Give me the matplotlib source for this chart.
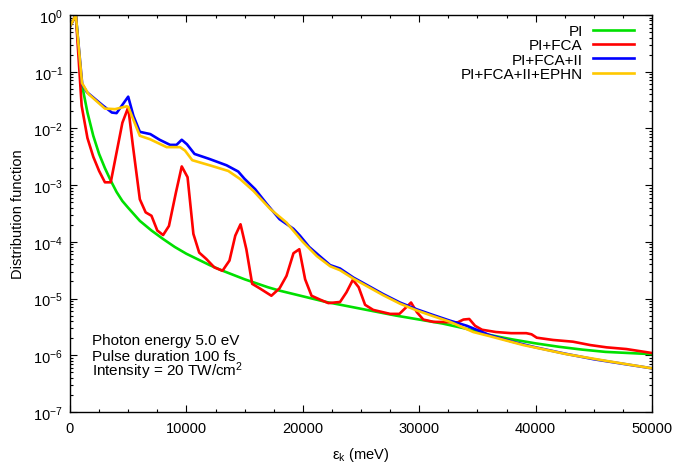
import numpy as np
import matplotlib
matplotlib.use("Agg")
import matplotlib.pyplot as plt
from matplotlib.ticker import MultipleLocator, LogLocator, LogFormatterSciNotation, NullFormatter

plt.rcParams['font.family'] = ['Liberation Sans', 'DejaVu Sans']
plt.rcParams['mathtext.fontset'] = 'custom'
plt.rcParams['mathtext.rm'] = 'Liberation Sans'
plt.rcParams['mathtext.it'] = 'Liberation Sans:italic'
plt.rcParams['font.size'] = 10.5

# energies in meV, values stored as log10 of the distribution function
pi_e = [0, 500, 1000, 1500, 2000, 2500, 3000, 3500, 4000, 4500, 5000, 6000, 7000,
        8000, 9000, 10000, 11000, 12000, 13000, 14000, 15000, 16000, 17000, 18000,
        19000, 20000, 22000, 24000, 26000, 28000, 30000, 32000, 34000, 36000, 38000,
        40000, 42000, 44000, 46000, 48000, 50000]
pi_log = [-0.2, 0, -1.2, -1.72, -2.13, -2.45, -2.7, -2.92, -3.12, -3.28, -3.4, -3.63, -3.8,
          -3.95, -4.09, -4.21, -4.31, -4.41, -4.5, -4.58, -4.66, -4.73, -4.8, -4.86,
          -4.91, -4.96, -5.06, -5.14, -5.22, -5.3, -5.37, -5.44, -5.53, -5.64, -5.72,
          -5.79, -5.85, -5.9, -5.94, -5.96, -5.98]

fca_e = [0, 500, 1000, 1500, 2000, 2500, 3000, 3500, 4500, 5000, 5400, 6000, 6500, 7000,
         7500, 8000, 8500, 9100, 9600, 10100, 10600, 11100, 11700, 12400, 13100, 13700,
         14200, 14650, 15150, 15650, 16300, 17300, 18000, 18600, 19200, 19700, 20200,
         20750, 21500, 22200, 23200, 23750, 24300, 24800, 25350, 26050, 27500, 28300,
         28850, 29300, 29800, 30350, 31200, 33300, 33800, 34300, 34800, 35400, 36600,
         37900, 39200, 39650, 40100, 41500, 43200, 44700, 46100, 47800, 50000]
fca_log = [-0.2, 0, -1.6, -2.17, -2.5, -2.75, -2.95, -2.95, -1.9, -1.63, -2.3, -3.25, -3.48, -3.54,
           -3.8, -3.88, -3.72, -3.13, -2.67, -2.86, -3.86, -4.19, -4.3, -4.45, -4.51, -4.33,
           -3.89, -3.69, -4.13, -4.74, -4.82, -4.95, -4.82, -4.6, -4.2, -4.13, -4.66,
           -4.95, -5.02, -5.08, -5.06, -4.89, -4.67, -4.8, -5.11, -5.2, -5.27, -5.27,
           -5.16, -5.07, -5.24, -5.37, -5.41, -5.42, -5.37, -5.36, -5.48, -5.55, -5.59,
           -5.61, -5.61, -5.63, -5.69, -5.73, -5.76, -5.82, -5.86, -5.89, -5.96]

ii_e = [0, 500, 1050, 1450, 2850, 3600, 4000, 5000, 5450, 6000, 6900, 7700, 8600, 9150,
        9600, 10050, 10700, 12000, 13450, 14450, 15000, 15900, 16900, 18000, 19200, 19750,
        20550, 21500, 22350, 23200, 24350, 25500, 26900, 28350, 29800, 31200, 32650,
        34100, 36000, 38000, 40000, 42500, 45000, 47500, 50000]
ii_log = [-0.2, 0, -1.22, -1.36, -1.6, -1.72, -1.73, -1.44, -1.78, -2.06, -2.1, -2.2, -2.29, -2.29,
          -2.2, -2.28, -2.45, -2.54, -2.65, -2.76, -2.89, -3.07, -3.33, -3.6, -3.77, -3.89,
          -4.09, -4.26, -4.41, -4.47, -4.63, -4.76, -4.92, -5.07, -5.19, -5.29, -5.39,
          -5.48, -5.64, -5.76, -5.86, -5.97, -6.07, -6.15, -6.23]

ephn_e = [0, 500, 1030, 1575, 3000, 3870, 4870, 5000, 6000, 6870, 8300, 9450, 9880, 10500,
          12000, 13600, 14600, 15750, 17200, 18600, 20000, 21200, 22350, 23200, 24350,
          25500, 26900, 28350, 29800, 31200, 32650, 34650, 36000, 38950, 42650, 46100, 50000]
ephn_log = [-0.2, 0, -1.2, -1.39, -1.65, -1.66, -1.61, -1.62, -2.13, -2.19, -2.33, -2.33, -2.39, -2.56,
            -2.65, -2.75, -2.89, -3.1, -3.42, -3.66, -4.0, -4.25, -4.43, -4.5, -4.65,
            -4.78, -4.94, -5.09, -5.21, -5.31, -5.41, -5.59, -5.66, -5.82, -5.98, -6.1, -6.23]

labels = ['PI', 'PI+FCA', 'PI+FCA+II', 'PI+FCA+II+EPHN']
colors = ['#00e000', '#ff0000', '#0000ff', '#ffc800']

fig = plt.figure(figsize=(6.76, 4.64), dpi=100)
ax = fig.add_axes([70/676, 51/464, 582/676, 397/464])

series = [(pi_e, pi_log), (fca_e, fca_log), (ii_e, ii_log), (ephn_e, ephn_log)]
for (e, lg), lab, c in zip(series, labels, colors):
    ax.plot(e, 10.0 ** np.array(lg), color=c, lw=1.9, label=lab)

ax.set_yscale('log')
ax.set_xlim(0, 50000)
ax.set_ylim(1e-7, 1)
ax.xaxis.set_major_locator(MultipleLocator(10000))
ax.xaxis.set_minor_locator(MultipleLocator(2500))
ax.yaxis.set_major_locator(LogLocator(base=10, numticks=20))
ax.yaxis.set_major_formatter(LogFormatterSciNotation())
ax.yaxis.set_minor_locator(LogLocator(base=10, subs=np.arange(2, 10), numticks=20))
ax.yaxis.set_minor_formatter(NullFormatter())
ax.tick_params(which='both', direction='in', top=True, right=True, width=0.8)
ax.tick_params(which='major', length=5, labelsize=10.5)
ax.tick_params(axis='x', which='major', pad=6.5)
ax.tick_params(axis='y', which='major', pad=5)
ax.tick_params(which='minor', length=2.5)
for s in ax.spines.values():
    s.set_linewidth(1.0)

ax.set_xlabel('ε$_{\\mathdefault{k}}$ (meV)', fontsize=10.5, labelpad=7)
ax.set_ylabel('Distribution function', fontsize=10.5, labelpad=6)

leg = ax.legend(loc='upper right', bbox_to_anchor=(0.9696, 0.977), frameon=False,
                markerfirst=False, handlelength=2.72, handletextpad=0.65,
                labelspacing=0.02, borderaxespad=0, borderpad=0, fontsize=11)

ax.text(0.0373, 0.171, 'Photon energy 5.0 eV', transform=ax.transAxes, fontsize=11)
ax.text(0.0373, 0.131, 'Pulse duration 100 fs', transform=ax.transAxes, fontsize=11)
ax.text(0.0373, 0.093, 'Intensity = 20 TW/cm$^{\\mathdefault{2}}$', transform=ax.transAxes, fontsize=11)

fig.savefig('out.png', dpi=100)
